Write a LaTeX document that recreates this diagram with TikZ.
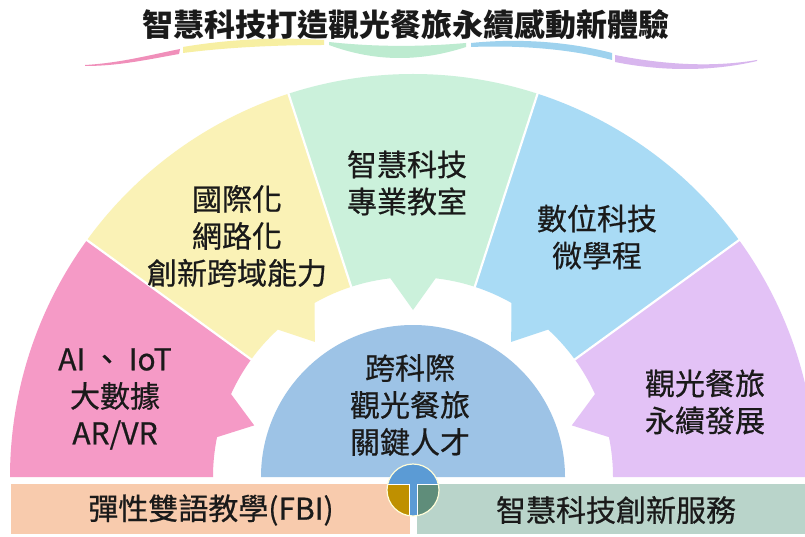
\documentclass[tikz,border=0pt]{standalone}
\usepackage{fontspec}
\setmainfont{Noto Sans CJK TC}
\newfontfamily\bodyfont{Noto Sans CJK TC}[FakeBold=0.6]
\usetikzlibrary{calc}
\definecolor{txt}{HTML}{1A1A1A}
\definecolor{spink}{HTML}{F59AC6}
\definecolor{syellow}{HTML}{FAF2B6}
\definecolor{sgreen}{HTML}{CBF1DB}
\definecolor{sblue}{HTML}{A9DBF5}
\definecolor{spurple}{HTML}{E3C2F6}
\definecolor{cblue}{HTML}{9DC3E6}
\definecolor{peach}{HTML}{F8CBAD}
\definecolor{sage}{HTML}{B9D4CA}
\definecolor{lblue}{HTML}{5B9BD5}
\definecolor{lgold}{HTML}{BF9000}
\definecolor{lgreen}{HTML}{5F8D7A}
\definecolor{wpink}{HTML}{F08FBA}
\definecolor{wyellow}{HTML}{F7EFA2}
\definecolor{wgreen}{HTML}{BDEBD0}
\definecolor{wblue}{HTML}{9ED2EE}
\definecolor{wpurple}{HTML}{D8B6EE}
\newcommand\fansector[4]{%
  \fill[#1] ($(C)+(#2:200)$) -- ($(C)+(#2:\R)$)
    arc[start angle=#2, end angle=#3, radius=\R]
    -- ($(C)+(#3:200)$)
    arc[start angle=#3, end angle={#4+6.5}, radius=200]
    -- ($(C)+(#4:167)$)
    -- ($(C)+({#4-6.5}:200)$)
    arc[start angle={#4-6.5}, end angle=#2, radius=200] -- cycle;}
\begin{document}
\begin{tikzpicture}[x=1pt,y=1pt,
  lbl/.style={text=txt, font=\bodyfont\fontsize{30}{37}\selectfont, align=center, inner sep=0pt},
  sepline/.style={white, line width=2.2pt}]
\useasboundingbox (0,0) rectangle (805,536);
\clip (0,0) rectangle (805,536);
\fill[white] (0,0) rectangle (805,536);
\def\R{403}
\coordinate (C) at (413,59);
% wave ribbon under title
\fill[wpink] (85,471) .. controls (120,473) and (150,481) .. (180,487) -- (179,482) .. controls (150,477) and (120,470) .. (85,470) -- cycle;
\fill[wyellow] (183,489) .. controls (230,497) and (280,499) .. (324,496) -- (324,491) .. controls (280,491) and (230,489) .. (183,483) -- cycle;
\fill[wgreen] (329,494) .. controls (375,489) and (420,489) .. (466,493) -- (466,489) .. controls (420,474) and (375,474) .. (329,491) -- cycle;
\fill[wblue] (471,493) .. controls (520,498) and (570,494) .. (612,483) -- (612,476) .. controls (570,487) and (520,491) .. (471,489) -- cycle;
\fill[wpurple] (615,481) .. controls (660,472) and (710,468) .. (757,476) -- (757,475) .. controls (710,464) and (660,465) .. (615,474) -- cycle;
% fan sectors
\fansector{spink}{144}{180}{162}
\fansector{syellow}{108}{144}{126}
\fansector{sgreen}{72}{108}{90}
\fansector{sblue}{36}{72}{54}
\fansector{spurple}{0}{36}{18}
\foreach \a in {36,72,108,144}
  \draw[sepline] ($(C)+(\a:198)$) -- ($(C)+(\a:\R+6)$);
% centre semicircle
\fill[cblue] ($(C)+(-152,0)$) arc[start angle=180, end angle=0, radius=152] -- cycle;
% bottom bars
\fill[peach] (11,2) rectangle (410,52);
\fill[sage] (417,2) rectangle (805,52);
% logo
\coordinate (L) at (413,46);
\begin{scope}
  \clip (L) circle (26);
  \fill[lgold] (380,10) rectangle (413,52);
  \fill[lgreen] (413,10) rectangle (450,52);
  \fill[lblue] (380,52) rectangle (450,80);
  \fill[lblue] (409,10) rectangle (417,52);
  \draw[white, line width=0.8pt] (380,52) -- (409,52) -- (409,10);
  \draw[white, line width=0.8pt] (450,52) -- (417,52) -- (417,10);
\end{scope}
\draw[white!85!yellow, line width=1.2pt] (L) circle (26);
% texts
\node[text=txt, font=\bfseries\fontsize{31}{31}\selectfont, inner sep=0pt] (title) at (406,511) {智慧科技打造觀光餐旅永續感動新體驗};
\node[lbl] (tpink) at (115,137) {AI 、 IoT\\大數據\\AR/VR};
\node[lbl] (tyellow) at (237,300) {國際化\\網路化\\創新跨域能力};
\node[lbl] (tgreen) at (407,353) {智慧科技\\專業教室};
\node[lbl] (tblue) at (597,299) {數位科技\\微學程};
\node[lbl] (tpurple) at (705,134) {觀光餐旅\\永續發展};
\node[lbl] (tcenter) at (410,131) {跨科際\\觀光餐旅\\關鍵人才};
\node[lbl] (tleft) at (211,26) {彈性雙語教學(FBI)};
\node[lbl] (tright) at (616,26) {智慧科技創新服務};
\end{tikzpicture}
\end{document}
